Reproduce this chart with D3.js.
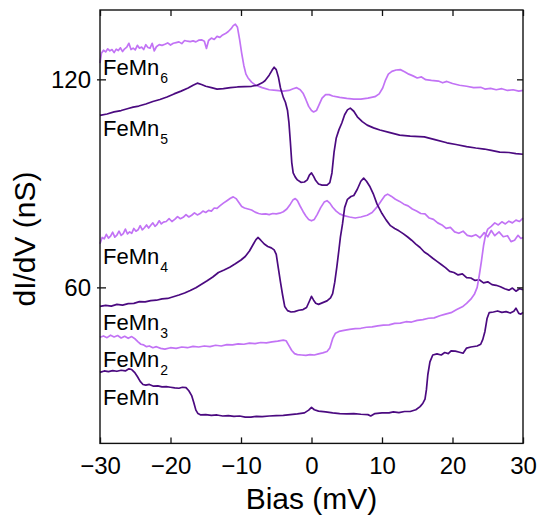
<!DOCTYPE html>
<html><head><meta charset="utf-8">
<script src="https://cdn.jsdelivr.net/npm/d3@7"></script>
<style>body{margin:0;background:#fff}svg{display:block}</style>
</head><body><svg id="c" width="537" height="517"></svg>
<script>
const xTicks=[-30,-20,-10,0,10,20,30];
const yTicks=[60,120];
const xTitle="Bias (mV)";
const yTitle="dI/dV (nS)";
const names=["FeMn6","FeMn5","FeMn4","FeMn3","FeMn2","FeMn"];

const feMn6=[[-30,124.7],[-29.8,127.5],[-29.5,128.4],[-29.2,127.9],[-28.9,128.8],[-28.6,128.2],[-28.3,128.6],[-28.0,127.7],[-27.7,128.7],[-27.4,128.3],[-27.1,129.1],[-26.8,128.0],[-26.5,128.8],[-26.2,129.3],[-25.9,130.4],[-25.6,128.6],[-25.3,129.0],[-25.0,128.5],[-24.7,129.8],[-24.4,129.0],[-24.1,129.3],[-23.8,128.6],[-23.5,130.0],[-23.2,129.2],[-22.9,129.0],[-22.6,130.4],[-22.3,128.2],[-22.0,129.4],[-21.6,130.0],[-21.2,129.8],[-20.8,130.1],[-20.4,130.5],[-20.0,129.9],[-19.6,130.4],[-19.2,130.6],[-18.8,130.8],[-18.4,130.3],[-18.0,131.2],[-17.6,131.0],[-17.2,130.9],[-16.8,131.1],[-16.4,130.8],[-16.0,131.3],[-15.6,131.4],[-15.2,131.0],[-14.9,128.9],[-14.6,131.2],[-14.2,131.9],[-13.8,131.5],[-13.4,132.4],[-13.0,132.1],[-12.6,132.8],[-12.2,133.2],[-11.8,133.8],[-11.4,134.6],[-11.1,135.5],[-10.8,135.9],[-10.5,135.0],[-10.2,131.5],[-9.9,127.5],[-9.6,124.0],[-9.3,121.5],[-9.0,120.4],[-8.5,119.2],[-8.0,118.4],[-7.0,117.6],[-6.0,117.0],[-5.0,116.8],[-4.0,116.6],[-3.2,116.8],[-2.6,117.3],[-2.1,117.6],[-1.6,117.0],[-1.2,116.0],[-0.8,114.2],[-0.4,112.2],[0.0,111.0],[0.3,110.6],[0.7,111.0],[1.1,112.8],[1.5,114.6],[2.0,115.6],[2.5,115.6],[3.0,115.2],[4.0,114.8],[5.0,114.5],[6.0,114.3],[7.0,114.3],[8.0,114.6],[9.0,115.0],[9.6,115.8],[10.1,117.5],[10.5,119.8],[10.9,121.5],[11.4,122.3],[12.0,122.7],[12.6,122.8],[13.2,122.2],[13.8,121.5],[14.4,121.0],[15.0,120.4],[15.6,120.7],[16.2,119.9],[17.0,119.7],[18.0,119.5],[18.6,119.0],[19.2,119.4],[20.0,118.8],[21.0,118.3],[22.0,118.0],[23.0,117.6],[24.0,117.7],[24.6,117.2],[25.4,117.4],[26.2,117.0],[27.0,117.3],[27.8,116.8],[28.6,117.0],[29.4,116.6],[30.0,116.8]];

const feMn5=[[-30,109.6],[-29.0,110.0],[-28.0,110.6],[-27.0,111.0],[-26.0,111.6],[-25.3,112.0],[-24.5,112.3],[-23.5,112.9],[-22.5,113.6],[-21.5,114.2],[-20.5,114.9],[-19.5,115.8],[-18.5,116.6],[-17.5,117.5],[-16.8,118.3],[-16.2,118.9],[-15.6,118.5],[-15.0,118.0],[-14.2,117.6],[-13.4,117.2],[-12.5,117.3],[-11.5,117.6],[-10.5,117.8],[-9.5,117.9],[-8.5,118.0],[-7.7,118.3],[-7.0,119.0],[-6.6,119.6],[-6.0,121.2],[-5.6,122.6],[-5.3,123.5],[-5.0,122.8],[-4.7,120.7],[-4.4,117.5],[-4.0,114.8],[-3.7,113.4],[-3.4,111.0],[-3.2,107.5],[-3.0,102.0],[-2.8,96.0],[-2.6,93.0],[-2.3,91.8],[-2.0,91.0],[-1.5,90.3],[-1.0,90.4],[-0.6,91.0],[-0.3,92.4],[0.0,93.0],[0.3,92.0],[0.6,90.8],[1.0,89.8],[1.5,89.5],[2.2,89.5],[2.6,90.2],[2.9,93.0],[3.2,99.0],[3.5,103.0],[3.9,105.5],[4.3,107.4],[4.7,109.8],[5.1,111.2],[5.5,111.7],[6.0,110.8],[6.5,109.2],[7.2,107.8],[7.9,106.8],[8.8,106.0],[9.7,105.4],[11.0,104.7],[12.5,103.9],[14.0,103.6],[16.0,103.4],[17.5,102.6],[19.2,101.7],[20.5,101.2],[22.0,100.6],[23.3,100.2],[24.5,99.9],[25.5,99.5],[26.7,99.0],[28.0,98.9],[29.0,98.6],[30.0,98.4]];

const feMn4=[[-30,72.6],[-29.7,74.4],[-29.4,74.0],[-29.1,75.3],[-28.8,74.2],[-28.5,74.8],[-28.2,75.9],[-27.9,74.5],[-27.6,75.1],[-27.3,76.2],[-27.0,75.0],[-26.7,75.5],[-26.4,76.8],[-26.1,75.4],[-25.8,76.0],[-25.5,75.6],[-25.2,77.0],[-24.9,76.2],[-24.6,76.6],[-24.3,77.8],[-24.0,76.6],[-23.7,77.2],[-23.4,78.0],[-23.1,77.1],[-22.8,77.9],[-22.5,78.6],[-22.2,77.6],[-21.9,78.2],[-21.6,79.2],[-21.3,78.3],[-21.0,78.8],[-20.6,79.0],[-20.2,79.8],[-19.8,79.0],[-19.4,79.6],[-19.0,80.4],[-18.6,79.8],[-18.2,80.2],[-17.8,81.0],[-17.4,80.3],[-17.0,80.8],[-16.6,81.5],[-16.2,80.9],[-15.8,81.3],[-15.4,82.0],[-15.0,81.6],[-14.6,82.2],[-14.2,82.0],[-13.8,82.9],[-13.4,82.8],[-13.0,83.5],[-12.5,84.3],[-12.0,85.0],[-11.5,85.7],[-11.1,86.1],[-10.7,85.6],[-10.3,84.5],[-9.9,83.3],[-9.5,82.9],[-9.0,82.6],[-8.5,82.3],[-8.0,81.7],[-7.5,81.3],[-7.0,81.1],[-6.5,81.2],[-6.0,81.0],[-5.5,81.3],[-5.0,81.2],[-4.5,81.4],[-4.0,81.8],[-3.5,82.6],[-3.0,84.0],[-2.6,85.3],[-2.3,85.6],[-2.0,85.0],[-1.6,83.4],[-1.2,81.9],[-0.8,80.6],[-0.4,79.6],[0.0,79.2],[0.4,79.6],[0.8,81.0],[1.3,83.0],[1.8,84.6],[2.2,85.0],[2.6,84.3],[3.0,83.1],[3.5,82.0],[4.0,81.2],[4.6,80.7],[5.4,80.3],[6.2,80.0],[7.0,80.3],[7.9,80.8],[8.6,81.6],[9.3,83.2],[9.9,85.0],[10.4,86.4],[10.8,86.9],[11.3,86.3],[11.9,85.4],[12.5,84.8],[13.1,84.0],[13.7,83.5],[14.3,82.6],[14.9,82.0],[15.5,81.3],[16.1,81.2],[16.7,80.0],[17.3,79.6],[17.9,78.6],[18.5,78.0],[19.1,77.0],[19.7,77.3],[20.3,76.0],[20.9,75.6],[21.5,76.2],[22.1,75.0],[22.7,74.7],[23.3,75.2],[23.9,74.3],[24.5,75.8],[25.0,74.6],[25.5,76.4],[26.0,74.9],[26.6,76.0],[27.2,74.6],[27.8,74.9],[28.3,73.2],[28.8,73.6],[29.3,75.0],[29.7,74.1],[30.0,74.4]];

const feMn3=[[-30,54.5],[-29.2,54.8],[-28.4,54.6],[-27.6,55.1],[-26.8,54.9],[-26.0,55.3],[-25.2,55.4],[-24.4,55.9],[-23.6,55.8],[-22.8,56.2],[-22.0,56.3],[-21.2,56.7],[-20.4,56.8],[-19.6,57.3],[-18.8,57.8],[-18.0,58.4],[-17.2,59.1],[-16.4,59.9],[-15.6,60.9],[-14.8,61.9],[-14.0,63.0],[-13.2,64.3],[-12.4,65.0],[-11.6,65.8],[-10.8,66.8],[-10.0,67.9],[-9.4,68.9],[-8.8,70.5],[-8.3,72.3],[-7.9,73.7],[-7.6,74.4],[-7.2,73.6],[-6.7,72.5],[-6.2,71.8],[-5.7,71.4],[-5.3,70.8],[-5.0,69.5],[-4.7,65.5],[-4.4,61.5],[-4.1,57.8],[-3.8,54.5],[-3.4,53.3],[-2.9,52.9],[-2.4,53.0],[-1.8,53.4],[-1.2,53.6],[-0.7,54.2],[-0.3,56.0],[0.0,57.4],[0.3,56.3],[0.6,55.4],[1.0,55.1],[1.6,55.6],[2.2,56.1],[2.7,57.0],[3.0,58.2],[3.3,61.5],[3.6,66.0],[3.9,71.0],[4.1,74.5],[4.4,78.3],[4.7,83.0],[5.1,85.4],[5.6,86.2],[6.0,86.5],[6.5,88.3],[7.0,90.6],[7.4,91.5],[7.8,90.6],[8.3,89.0],[8.8,86.8],[9.3,84.0],[10.0,81.3],[10.6,79.4],[11.2,77.8],[11.8,77.0],[12.4,76.3],[13.0,75.5],[13.6,74.6],[14.2,73.6],[14.8,72.5],[15.4,71.5],[16.0,70.2],[16.6,69.4],[17.2,68.4],[17.8,67.5],[18.4,66.6],[19.0,65.7],[19.6,64.6],[20.2,64.3],[20.8,63.6],[21.4,63.9],[22.0,62.8],[22.6,62.7],[23.2,62.0],[23.8,62.2],[24.4,61.3],[25.0,61.6],[25.6,60.8],[26.2,60.6],[26.8,60.2],[27.4,59.6],[28.0,59.2],[28.5,59.8],[29.0,58.9],[29.5,59.6],[30.0,59.3]];

const feMn2=[[-30,45.6],[-29.5,46.0],[-29.0,45.5],[-28.5,46.2],[-28.0,45.7],[-27.5,46.1],[-27.0,45.4],[-26.5,45.9],[-26.0,45.3],[-25.5,45.8],[-25.0,45.1],[-24.6,44.3],[-24.2,43.6],[-23.8,43.4],[-23.4,42.9],[-23.0,43.1],[-22.5,42.6],[-22.0,42.9],[-21.4,42.4],[-20.8,42.2],[-20.0,42.6],[-19.2,42.4],[-18.4,42.8],[-17.6,42.6],[-16.8,43.0],[-16.0,42.8],[-15.2,43.1],[-14.4,42.9],[-13.6,43.3],[-12.8,43.1],[-12.0,43.5],[-11.2,43.4],[-10.4,43.7],[-9.6,43.6],[-8.8,43.9],[-8.0,43.8],[-7.2,44.1],[-6.4,44.0],[-5.6,44.3],[-4.8,44.5],[-4.0,44.8],[-3.6,44.6],[-3.2,43.2],[-2.8,41.8],[-2.4,40.9],[-2.0,40.6],[-1.4,40.5],[-0.8,40.4],[-0.2,40.6],[0.4,40.5],[1.0,40.8],[1.6,41.1],[2.2,41.5],[2.6,42.5],[3.0,45.2],[3.4,46.8],[3.9,47.3],[4.6,47.6],[5.4,47.9],[6.2,48.1],[7.0,48.2],[7.8,48.5],[8.6,48.6],[9.4,48.9],[10.2,49.1],[11.0,49.2],[11.8,49.6],[12.6,49.7],[13.4,50.1],[14.2,50.0],[15.0,50.5],[15.8,50.7],[16.6,51.1],[17.4,51.2],[18.2,51.8],[19.0,52.3],[19.8,52.7],[20.6,53.6],[21.4,54.4],[22.0,55.4],[22.6,56.6],[23.1,58.0],[23.5,60.0],[23.8,63.5],[24.1,67.5],[24.4,72.0],[24.7,75.2],[25.0,76.8],[25.5,77.6],[26.0,78.6],[26.5,78.0],[27.0,78.9],[27.5,78.3],[28.0,79.1],[28.5,78.6],[29.0,79.4],[29.5,79.0],[30.0,80.0]];

const feMn1=[[-30,35.5],[-29.4,35.9],[-28.8,35.7],[-28.2,36.0],[-27.6,35.8],[-27.0,36.1],[-26.4,35.9],[-25.9,36.5],[-25.5,36.3],[-25.1,35.5],[-24.7,34.3],[-24.3,32.9],[-23.9,32.0],[-23.5,31.8],[-23.0,32.0],[-22.4,31.5],[-21.8,31.6],[-21.2,31.3],[-20.6,31.4],[-20.0,31.2],[-19.4,31.0],[-18.8,30.9],[-18.3,31.2],[-17.8,31.1],[-17.4,30.2],[-17.0,28.8],[-16.7,26.8],[-16.4,24.6],[-16.1,23.6],[-15.7,23.2],[-15.0,23.3],[-14.2,23.1],[-13.4,23.2],[-12.6,22.9],[-11.8,23.0],[-11.0,22.8],[-10.2,22.9],[-9.4,22.6],[-8.6,22.6],[-7.8,22.8],[-7.0,22.7],[-6.0,22.9],[-5.0,23.0],[-4.0,23.1],[-3.0,23.3],[-2.0,23.5],[-1.0,23.8],[-0.4,24.6],[0.0,25.4],[0.4,24.7],[1.0,24.3],[2.0,24.1],[3.0,23.8],[4.0,23.6],[5.0,23.5],[6.0,23.6],[7.0,23.4],[8.0,23.3],[8.4,22.9],[9.0,23.6],[10.0,23.8],[11.0,23.8],[11.6,24.1],[12.4,23.9],[13.2,24.2],[14.0,24.2],[14.8,24.7],[15.4,25.6],[15.8,26.6],[16.1,27.8],[16.3,30.5],[16.5,34.8],[16.8,38.5],[17.2,40.5],[17.8,40.8],[18.4,40.5],[18.9,41.2],[19.4,40.9],[19.8,41.7],[20.4,41.6],[21.0,41.3],[21.5,41.0],[22.0,42.5],[22.6,42.8],[23.5,43.1],[24.0,43.6],[24.3,45.0],[24.6,47.3],[24.9,51.0],[25.2,52.7],[25.8,52.9],[26.4,53.2],[27.0,52.8],[27.6,53.0],[28.2,52.6],[28.7,53.1],[29.0,54.0],[29.4,52.5],[29.7,52.3],[30.0,52.8]];

const DARK="#4b0a80", LIGHT="#c273f5";
const series=[
 {data:feMn6,color:LIGHT,base:"FeMn",sub:"6",ly:75},
 {data:feMn5,color:DARK,base:"FeMn",sub:"5",ly:136},
 {data:feMn4,color:LIGHT,base:"FeMn",sub:"4",ly:264},
 {data:feMn3,color:DARK,base:"FeMn",sub:"3",ly:330},
 {data:feMn2,color:LIGHT,base:"FeMn",sub:"2",ly:367},
 {data:feMn1,color:DARK,base:"FeMn",sub:"",ly:405}
];

const L=100,R=523,T=10,B=443.4;
const x=d3.scaleLinear().domain([-30,30]).range([L,R]);
const y=d3.scaleLinear().domain([15,140]).range([B,T]);
const svg=d3.select("#c");
const FONT="'Liberation Sans',Arial,Helvetica,sans-serif";

const gp=svg.append("g");
const line=d3.line().x(d=>x(d[0])).y(d=>y(d[1])).curve(d3.curveLinear);
series.forEach(s=>{
  gp.append("path").attr("d",line(s.data)).attr("fill","none")
    .attr("stroke",s.color).attr("stroke-width",1.7).attr("stroke-linejoin","round");
});

svg.append("rect").attr("x",L).attr("y",T).attr("width",R-L).attr("height",B-T)
  .attr("fill","none").attr("stroke","#111").attr("stroke-width",1.4);

const ax=svg.append("g").attr("transform",`translate(0,${B})`)
  .call(d3.axisBottom(x).tickValues(xTicks).tickSizeInner(-6).tickSizeOuter(0).tickPadding(14).tickFormat(d3.format("d")));
const axT=svg.append("g").attr("transform",`translate(0,${T})`)
  .call(d3.axisTop(x).tickValues(xTicks).tickSizeInner(-6).tickSizeOuter(0).tickFormat(""));
const ayL=svg.append("g").attr("transform",`translate(${L},0)`)
  .call(d3.axisLeft(y).tickValues(yTicks).tickSizeInner(3).tickSizeOuter(0).tickPadding(6).tickFormat(d3.format("d")));
ayL.selectAll(".tick line").attr("x1",6);
const ayR=svg.append("g").attr("transform",`translate(${R},0)`)
  .call(d3.axisRight(y).tickValues(yTicks).tickSizeInner(-6).tickSizeOuter(0).tickFormat(""));
[ax,axT,ayL,ayR].forEach(g=>{
  g.select(".domain").remove();
  g.selectAll(".tick line").attr("stroke","#111").attr("stroke-width",1.3);
  g.selectAll("text").attr("font-family",FONT).attr("font-size",24).attr("fill","#000");
});
ax.selectAll("text").attr("dy","0.71em");

series.forEach(s=>{
  const t=svg.append("text").attr("x",103).attr("y",s.ly)
    .attr("font-family",FONT).attr("font-size",22).attr("fill","#000").text(s.base);
  if(s.sub) t.append("tspan").attr("dx",1).attr("dy",8).attr("font-size",14).text(s.sub);
});

svg.append("text").attr("x",(L+R)/2).attr("y",509).attr("text-anchor","middle")
  .attr("font-family",FONT).attr("font-size",30).text(xTitle);
svg.append("text").attr("transform","translate(35,239) rotate(-90)").attr("text-anchor","middle")
  .attr("font-family",FONT).attr("font-size",30).text(yTitle);
</script></body></html>
